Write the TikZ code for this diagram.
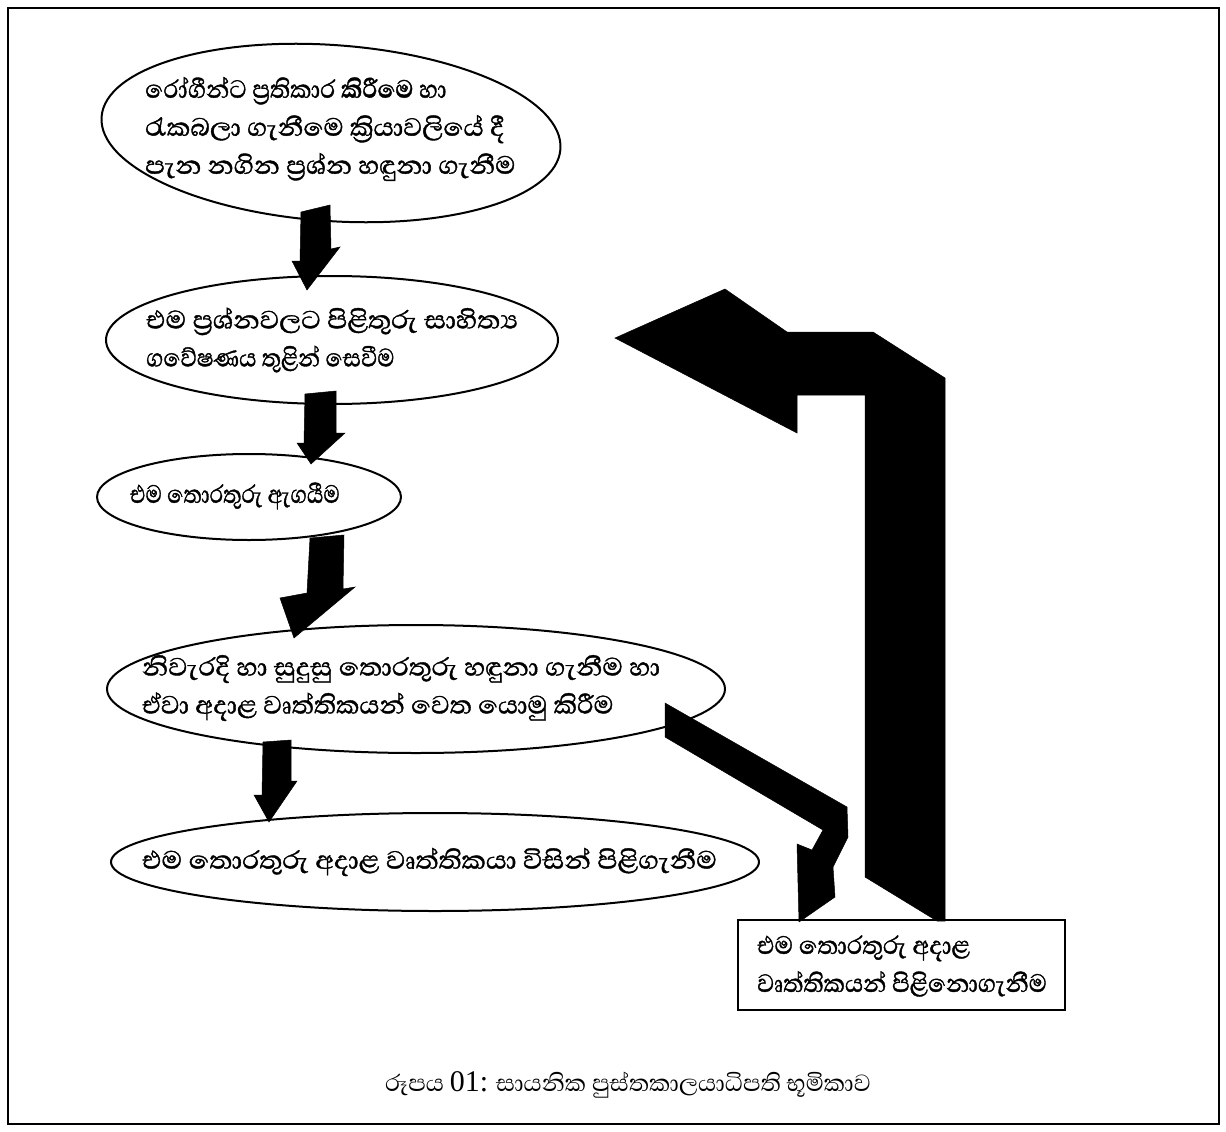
\documentclass[tikz,border=0pt]{standalone}
\usepackage{fontspec}
\usetikzlibrary{shapes.geometric}
\newfontfamily\sinhfont[Script=Sinhala,FakeBold=1.2]{Abhaya Libre}
\newfontfamily\sinhcapfont[Script=Sinhala]{Abhaya Libre}
\newfontfamily\tnrfont{Liberation Serif}
\newcommand\hsx[2]{\scalebox{#1}[1]{#2}}
\tikzset{
  bubble/.style={draw=black, line width=2pt, ellipse, inner sep=0pt},
  lbl/.style={font=\sinhfont\fontsize{32}{38}\selectfont, align=left, anchor=west, inner sep=0pt},
  blockarrow/.style={fill=black, draw=black, line width=0.5pt, line join=miter},
}
\begin{document}
\begin{tikzpicture}[x=1pt,y=-1pt]
\useasboundingbox (0,0) rectangle (1226,1132);
\draw[line width=2pt] (8,8) rectangle (1219,1124);

% ellipses
\node[bubble, minimum width=460pt, minimum height=176pt, rotate=-4] (e1) at (331,133) {};
\node[bubble, minimum width=452pt, minimum height=128pt] (e2) at (332,340) {};
\node[bubble, minimum width=304pt, minimum height=86pt] (e3) at (249,497) {};
\node[bubble, minimum width=618pt, minimum height=128pt] (e4) at (416,689) {};
\node[bubble, minimum width=648pt, minimum height=98pt] (e5) at (435,862) {};
\node[draw=black, line width=1.6pt, minimum width=327pt, minimum height=90pt, inner sep=0pt] (r) at (901.5,965) {};

% texts
\node[lbl] (t1) at (145,129) {\hsx{0.94}{රෝගීන්ට ප්‍රතිකාර {\bfseries කිරීමෙ} හා}\\\hsx{1.04}{රැකබලා ගැනීමෙ ක්‍රියාවලියේ දී}\\\hsx{1.05}{පැන නගින ප්‍රශ්න හඳුනා ගැනීම}};
\node[lbl] (t2) at (146,340) {\hsx{1.07}{එම ප්‍රශ්නවලට පිළිතුරු සාහිත්‍ය}\\\hsx{0.89}{ගවේෂණය තුළින් සෙවීම}};
\node[lbl] (t3) at (130,496) {\hsx{0.85}{එම තොරතුරු ඇගයීම}};
\node[lbl] (t4) at (142,688) {\hsx{1.06}{නිවැරදි හා සුදුසු තොරතුරු හඳුනා ගැනීම හා}\\\hsx{1.03}{ඒවා අදාළ වෘත්තිකයන් වෙත යොමු කිරීම}};
\node[lbl] (t5) at (142,862) {\hsx{1.07}{එම තොරතුරු අදාළ වෘත්තිකයා විසින් පිළිගැනීම}};
\node[lbl] (t6) at (757,966) {\hsx{0.96}{එම තොරතුරු අදාළ}\\\hsx{0.94}{වෘත්තිකයන් පිළිනොගැනීම}};
\node[font=\sinhcapfont\fontsize{30}{34}\selectfont, inner sep=0pt] (cap) at (628,1085) {රූපය {\tnrfont 01:} සායනික පුස්තකාලයාධිපති භූමිකාව};

% block arrows
\fill[blockarrow] (301,212) -- (330,205) -- (331,249) -- (340,247) -- (307,290) -- (292,261) -- (300,261) -- cycle;
\fill[blockarrow] (305,394) -- (336,391) -- (336,433) -- (345,433) -- (311,464) -- (297,443) -- (304,443) -- cycle;
\fill[blockarrow] (310,538) -- (344,535) -- (343,589) -- (355,587) -- (294,638) -- (280,598) -- (307,593) -- cycle;
\fill[blockarrow] (263,742) -- (291,740) -- (291,781) -- (297,781) -- (269,822) -- (254,795) -- (262,795) -- cycle;

% big feedback arrow
\fill[blockarrow] (615,338) -- (725,289) -- (787,332) -- (873,332) -- (945,378) -- (945,921) -- (937,921) -- (865,877) -- (865,395) -- (797,395) -- (797,433) -- cycle;

% small bent arrow to box
\fill[blockarrow] (665,703) -- (847,807) -- (848,837) -- (833,867) -- (835,897) -- (799,922) -- (797,844) -- (812,850) -- (823,830) -- (665,737) -- cycle;
\end{tikzpicture}
\end{document}
